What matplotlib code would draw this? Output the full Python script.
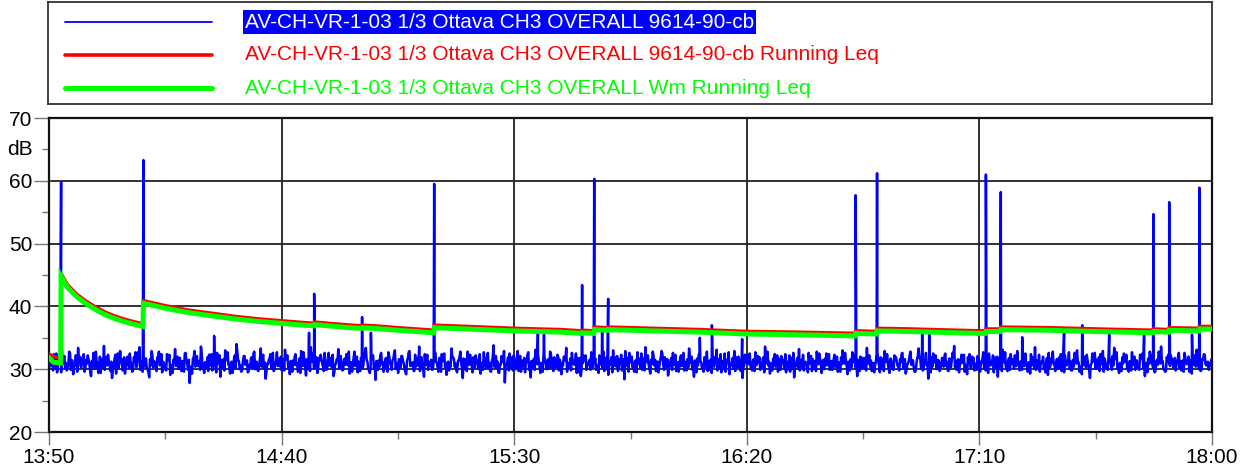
import numpy as np
import matplotlib
matplotlib.use("Agg")
import matplotlib.pyplot as plt
from matplotlib.ticker import FixedLocator, FixedFormatter

plt.rcParams['font.family'] = ['Liberation Sans', 'DejaVu Sans']

# ---------------- data ----------------
x_tick_labels = ["13:50", "14:40", "15:30", "16:20", "17:10", "18:00"]
x_tick_minutes = [0, 50, 100, 150, 200, 250]
y_ticks = [20, 30, 40, 50, 60, 70]

series_names = [
    "AV-CH-VR-1-03 1/3 Ottava CH3 OVERALL 9614-90-cb",
    "AV-CH-VR-1-03 1/3 Ottava CH3 OVERALL 9614-90-cb Running Leq",
    "AV-CH-VR-1-03 1/3 Ottava CH3 OVERALL Wm Running Leq",
]

# background level (dB): even samples over 13:50-18:00
noise_even_db = [
    31.2, 30.6, 31.9, 32.4, 30.1, 29.5, 31.3, 30.8, 33.1, 31.7, 30.2, 29.8, 30.9, 32.6, 31.4, 29.2, 30.5, 31.8, 33.4, 32.0, 30.3, 30.9, 29.6, 31.5,
    32.2, 30.7, 28.9, 30.4, 31.6, 32.8, 31.1, 30.0, 29.4, 31.0, 33.7, 31.9, 30.6, 31.3, 29.7, 28.6, 30.8, 32.3, 31.5, 30.2, 32.9, 31.6, 30.1, 29.3,
    30.7, 31.8, 32.5, 30.9, 29.9, 31.4, 30.3, 32.7, 33.5, 31.2, 29.6, 30.4, 31.7, 30.0, 28.7, 30.6, 32.1, 31.3, 30.5, 31.9, 32.8, 30.8, 29.5, 31.1,
    30.2, 32.4, 31.6, 29.1, 30.3, 31.5, 33.2, 30.9, 30.1, 31.8, 29.7, 30.6, 32.5, 31.2, 29.9, 27.8, 30.4, 31.7, 32.9, 31.0, 30.5, 31.3, 33.6, 30.2,
    29.4, 30.8, 31.9, 32.3, 30.6, 29.8, 31.1, 30.4, 32.6, 31.5, 28.8, 30.3, 31.6, 33.0, 31.9, 30.7, 29.3, 31.2, 30.5, 32.2, 34.0, 31.4, 30.0, 29.6,
    31.3, 32.1, 30.9, 29.5, 30.7, 31.8, 30.2, 32.8, 31.1, 29.9, 30.6, 33.3, 31.7, 30.1, 28.5, 30.9, 31.5, 32.4, 30.8, 29.7, 31.0, 32.7, 31.2, 30.4,
    29.8, 31.6, 33.1, 31.9, 30.3, 29.2, 30.8, 31.4, 32.0, 30.6, 29.6, 31.7, 32.9, 30.5, 31.2, 29.0, 30.4, 31.9, 33.5, 31.3, 30.1, 30.7, 29.4, 31.8,
    32.3, 30.9, 29.7, 31.2, 30.0, 32.6, 31.5, 30.3, 28.9, 30.7, 31.6, 33.2, 31.0, 30.4, 29.9, 31.7, 32.4, 30.6, 29.3, 31.1, 30.8, 32.8, 31.4, 29.5,
    30.9, 31.8, 30.2, 32.5, 33.4, 31.2, 29.8, 30.5, 31.9, 30.1, 28.3, 30.6, 31.4, 32.2, 30.8, 29.6, 31.5, 30.3, 32.7, 31.0, 29.9, 31.6, 33.0, 30.7,
    29.4, 30.9, 32.1, 31.3, 30.0, 29.2, 31.7, 32.9, 30.6, 31.1, 29.7, 30.4, 31.8, 33.6, 31.5, 30.2, 28.8, 30.7, 32.3, 31.2, 30.5, 29.9, 31.4, 32.6,
    31.0, 29.6, 30.8, 32.4, 31.7, 30.3, 29.1, 31.2, 30.6, 33.3, 31.9, 30.4, 29.8, 31.3, 32.0, 30.9, 28.6, 30.2, 31.6, 32.8, 30.7, 31.5, 29.5, 30.1,
    32.2, 31.4, 30.0, 29.3, 31.0, 32.7, 30.5, 31.8, 30.1, 29.7, 31.3, 33.8, 31.6, 30.2, 29.5, 30.8, 32.1, 31.1, 27.9, 30.6, 31.9, 32.5, 30.3, 29.8,
    31.5, 30.7, 32.9, 31.2, 29.6, 30.4, 31.8, 30.9, 32.3, 29.9, 28.7, 30.5, 31.7, 33.1, 30.8, 31.4, 29.4, 30.2, 32.6, 31.3, 30.0, 31.6, 32.8, 30.4,
    29.7, 31.1, 30.3, 32.0, 31.5, 29.2, 30.6, 31.9, 33.4, 31.0, 30.2, 29.8, 31.3, 30.7, 32.5, 31.8, 29.5, 28.9, 30.9, 31.6, 32.2, 30.5, 31.2, 29.9,
    30.8, 32.4, 31.7, 30.1, 29.4, 31.2, 30.6, 32.8, 31.5, 30.0, 29.1, 30.7, 31.9, 33.0, 31.3, 30.4, 29.7, 31.6, 32.3, 30.9, 28.4, 30.5, 31.8, 32.6,
    31.1, 30.3, 29.6, 31.4, 32.7, 31.0, 30.2, 29.9, 31.7, 33.5, 31.2, 30.6, 29.3, 30.8, 32.1, 31.5, 30.0, 29.5, 31.3, 32.9, 30.7, 31.9, 30.4, 29.0,
    30.6, 31.8, 32.6, 30.9, 29.7, 31.1, 30.3, 32.2, 31.4, 29.8, 30.5, 31.6, 33.3, 31.0, 29.9, 28.8, 30.4, 31.7, 32.4, 31.2, 30.1, 29.6, 31.5, 32.8,
    31.3, 30.0, 29.4, 30.8, 31.9, 33.1, 31.6, 30.2, 29.5, 31.0, 32.5, 30.7, 31.4, 29.2, 30.6, 31.8, 32.9, 30.9, 30.3, 31.5, 29.7, 28.6, 30.5, 31.7,
    32.3, 31.1, 30.4, 29.8, 31.6, 32.7, 30.8, 31.3, 29.9, 30.2, 31.9, 33.6, 31.4, 30.6, 29.3, 30.9, 31.7, 32.4, 31.0, 29.6, 30.7, 32.1, 31.5, 30.0,
    29.5, 30.9, 32.2, 31.4, 30.1, 28.7, 30.5, 31.8, 33.2, 31.1, 30.3, 29.8, 31.2, 30.6, 32.6, 31.9, 29.7, 30.4, 31.3, 32.8, 30.8, 31.6, 29.4, 30.2,
    31.7, 32.5, 30.6, 29.9, 31.3, 30.0, 32.3, 31.5, 29.6, 30.8, 31.9, 33.0, 30.9, 31.2, 29.2, 30.5, 31.6, 32.7, 31.1, 30.3, 28.9, 30.7, 32.0, 31.4,
    30.2, 31.8, 33.4, 31.6, 30.4, 29.7, 31.0, 30.6, 32.4, 31.3, 29.5, 30.1, 31.7, 32.9, 31.2, 30.8, 29.4, 31.5, 30.0, 32.2, 31.9, 30.5, 29.8, 31.1,
    32.6, 30.9, 29.3, 30.7, 31.4, 32.8, 31.0, 30.2, 29.6, 31.6, 33.3, 31.8, 30.4, 29.9, 31.2, 30.6, 28.5, 30.3, 31.9, 32.5, 31.1, 30.0, 31.5, 29.7,
    30.8, 31.3, 32.1, 30.5, 29.8, 31.7, 30.3, 32.6, 33.7, 31.4, 30.1, 29.5, 30.9, 31.6, 32.3, 30.7, 29.2, 31.0, 30.4, 32.0, 31.8, 30.6, 29.9, 31.2,
    29.6, 31.0, 32.7, 31.5, 30.2, 29.4, 31.3, 30.8, 32.2, 31.9, 30.5, 28.8, 30.6, 31.4, 33.1, 31.1, 30.3, 29.7, 31.8, 32.4, 30.9, 30.1, 31.6, 32.9,
    31.2, 30.4, 29.9, 31.6, 32.5, 30.7, 31.1, 29.3, 30.6, 31.9, 33.5, 31.4, 30.0, 29.6, 31.2, 32.0, 30.8, 31.5, 29.1, 30.3, 31.7, 32.8, 31.0, 30.5,
    30.1, 31.9, 32.4, 30.6, 29.5, 31.3, 30.9, 32.7, 31.2, 29.8, 30.4, 31.6, 33.0, 31.1, 30.3, 29.2, 30.7, 31.8, 32.3, 30.5, 28.6, 30.9, 31.4, 32.6,
    31.5, 30.2, 29.7, 31.0, 32.9, 31.7, 30.4, 29.9, 31.3, 30.8, 32.1, 33.4, 31.6, 30.1, 29.4, 30.6, 31.9, 32.5, 31.2, 30.0, 29.6, 31.1, 32.7, 30.7,
    29.9, 31.4, 30.6, 32.3, 31.8, 30.2, 28.9, 30.5, 31.7, 32.8, 31.0, 30.3, 29.5, 31.2, 30.7, 32.4, 33.6, 31.3, 30.0, 29.7, 31.5, 30.9, 32.2, 31.6,
    30.4, 29.8, 31.1, 32.6, 31.3, 30.5, 29.6, 31.9, 30.8, 32.0, 31.4, 29.3, 30.7, 31.8, 33.1, 31.0, 30.2, 29.9, 31.6, 32.3, 30.6, 31.2, 30.9, 31.5,
]

# background level (dB): odd samples, in between the even ones
noise_odd_db = [
    30.4, 31.7, 29.8, 31.2, 32.5, 30.6, 31.9, 29.5, 30.8, 32.1, 31.0, 30.3, 32.8, 29.9, 31.4, 30.7, 32.2, 29.6, 31.1, 30.5, 31.8, 32.4, 30.2, 30.9,
    31.5, 29.7, 31.3, 32.6, 30.1, 31.0, 29.4, 32.0, 31.6, 30.4, 29.9, 31.8, 32.3, 30.6, 31.2, 30.0, 31.7, 29.3, 32.5, 30.8, 31.4, 29.8, 31.9, 30.5,
    32.0, 30.2, 31.1, 29.6, 31.9, 32.7, 30.5, 31.3, 29.9, 30.7, 32.2, 31.4, 30.1, 29.5, 31.6, 32.9, 30.3, 31.0, 29.7, 31.5, 30.6, 32.4, 31.2, 30.0,
    29.8, 31.4, 32.3, 30.7, 29.4, 31.1, 30.5, 32.0, 31.7, 30.2, 31.3, 29.6, 32.6, 30.9, 31.5, 30.0, 29.3, 31.8, 30.4, 32.1, 31.0, 29.9, 32.5, 30.6,
    31.1, 30.3, 29.7, 31.6, 32.4, 30.8, 31.2, 29.5, 30.9, 32.2, 31.5, 30.1, 29.8, 31.4, 32.7, 30.5, 31.0, 29.4, 31.7, 30.2, 32.8, 31.3, 30.6, 29.9,
    32.1, 30.7, 31.4, 29.6, 30.3, 31.9, 32.5, 30.0, 31.2, 29.7, 31.6, 30.4, 32.3, 31.1, 29.5, 30.8, 31.8, 30.2, 32.6, 29.9, 31.3, 30.5, 31.7, 32.0,
    30.5, 29.8, 31.5, 32.2, 30.9, 31.3, 29.6, 30.7, 32.4, 31.0, 30.2, 29.4, 31.8, 32.7, 30.4, 31.6, 30.0, 29.7, 31.2, 32.5, 30.6, 31.9, 30.1, 31.4,
    31.7, 30.4, 32.6, 29.9, 31.1, 30.6, 31.8, 32.3, 29.5, 30.9, 31.4, 30.1, 32.1, 29.8, 31.5, 30.7, 31.0, 32.8, 30.3, 29.6, 31.9, 30.5, 32.0, 31.2,
    29.7, 31.2, 30.6, 32.4, 31.5, 30.0, 29.4, 31.7, 32.2, 30.8, 31.3, 29.9, 30.4, 32.6, 31.1, 30.2, 31.8, 29.6, 32.0, 30.7, 31.4, 32.5, 30.1, 31.0,
    31.6, 30.3, 32.1, 30.9, 29.5, 31.4, 32.7, 30.5, 31.0, 29.8, 32.3, 31.2, 30.6, 29.7, 31.9, 30.1, 32.4, 31.3, 29.9, 30.8, 31.5, 30.0, 32.2, 31.1,
    30.2, 31.8, 29.6, 31.3, 32.5, 30.7, 31.1, 29.8, 30.4, 32.0, 31.6, 30.9, 29.5, 31.4, 32.8, 30.3, 31.7, 30.0, 29.7, 31.2, 32.3, 30.6, 31.9, 30.5,
    31.3, 30.1, 32.4, 30.8, 29.9, 31.5, 30.2, 32.6, 31.0, 29.6, 31.8, 30.4, 32.1, 31.2, 29.4, 30.7, 31.6, 32.9, 30.5, 31.1, 29.8, 30.3, 31.9, 32.2,
    30.0, 31.6, 29.7, 32.1, 31.4, 30.6, 29.5, 31.2, 32.7, 30.9, 31.3, 30.2, 29.9, 31.8, 32.4, 30.4, 31.0, 29.6, 32.0, 30.8, 31.5, 30.1, 32.5, 31.7,
    31.9, 30.5, 32.3, 29.8, 31.1, 30.7, 32.0, 31.4, 29.6, 30.3, 31.7, 32.6, 30.9, 31.2, 29.4, 30.6, 31.8, 30.0, 32.2, 31.3, 29.9, 30.8, 31.5, 32.7,
    30.3, 31.2, 29.9, 30.6, 32.2, 31.5, 30.1, 29.7, 31.8, 32.4, 30.8, 31.3, 29.5, 30.5, 31.9, 32.1, 30.2, 31.0, 29.8, 31.6, 32.9, 30.7, 29.6, 31.1,
    32.0, 30.9, 31.3, 29.5, 30.8, 31.7, 32.5, 30.4, 29.8, 31.1, 32.2, 30.0, 31.5, 32.8, 30.6, 29.7, 31.2, 30.3, 31.9, 32.4, 29.9, 30.5, 31.6, 30.2,
    31.4, 29.9, 30.7, 32.3, 31.0, 29.6, 31.8, 30.5, 32.6, 31.2, 29.8, 30.3, 31.7, 32.0, 30.9, 31.4, 29.5, 30.6, 32.5, 31.1, 30.0, 31.9, 30.4, 29.7,
    29.9, 31.6, 32.2, 30.4, 31.1, 29.8, 30.7, 32.4, 31.3, 30.0, 29.6, 31.5, 32.7, 30.8, 31.2, 30.1, 29.7, 31.9, 32.0, 30.5, 31.4, 30.2, 32.3, 31.0,
    30.8, 32.5, 30.2, 31.4, 29.7, 30.6, 32.1, 31.9, 30.3, 31.6, 29.5, 30.9, 32.8, 31.2, 30.0, 29.8, 31.5, 30.4, 32.2, 31.7, 29.9, 31.1, 30.6, 32.4,
    31.2, 30.0, 29.6, 31.8, 32.6, 30.5, 31.3, 30.1, 29.8, 31.5, 32.3, 30.7, 31.0, 29.5, 30.9, 32.1, 31.6, 30.3, 29.7, 31.2, 32.5, 30.8, 31.4, 30.0,
    30.6, 31.3, 32.4, 30.2, 29.9, 31.7, 30.4, 32.0, 31.1, 29.6, 30.8, 31.9, 32.6, 30.5, 31.2, 29.8, 30.3, 31.6, 32.2, 30.9, 31.5, 29.7, 30.1, 31.8,
    31.5, 29.8, 30.9, 32.2, 31.4, 30.1, 29.5, 31.1, 32.7, 30.6, 31.9, 30.3, 29.7, 31.3, 32.4, 30.0, 31.7, 30.8, 29.9, 32.0, 31.2, 30.4, 31.6, 32.5,
    30.1, 31.6, 29.9, 31.0, 32.3, 30.7, 31.4, 29.6, 30.5, 32.1, 31.8, 30.2, 29.8, 31.5, 32.6, 30.9, 31.1, 29.5, 30.4, 31.9, 32.2, 30.6, 31.3, 30.0,
    31.8, 30.4, 32.5, 31.2, 29.7, 30.8, 31.5, 32.0, 30.3, 29.9, 31.6, 30.7, 32.3, 31.0, 29.6, 30.5, 31.9, 32.4, 30.1, 31.3, 29.8, 30.9, 32.1, 31.4,
    30.9, 31.7, 30.2, 29.8, 31.4, 32.5, 30.6, 31.1, 29.5, 30.3, 32.0, 31.8, 30.4, 29.7, 31.2, 32.7, 30.0, 31.5, 29.9, 30.8, 31.6, 32.2, 30.5, 31.0,
    29.8, 31.3, 32.1, 30.5, 31.0, 29.6, 30.9, 32.4, 31.7, 30.2, 29.9, 31.4, 32.3, 30.7, 31.1, 30.0, 29.5, 31.8, 32.6, 30.4, 31.2, 30.8, 29.7, 31.6,
    31.6, 30.2, 29.7, 31.9, 32.2, 30.6, 31.3, 30.0, 29.8, 31.5, 32.6, 30.9, 31.1, 29.6, 30.4, 31.7, 32.0, 30.3, 31.4, 29.9, 30.7, 32.5, 31.2, 30.1,
    30.5, 31.9, 32.4, 30.8, 29.6, 31.2, 30.3, 32.1, 31.5, 29.9, 30.6, 31.8, 32.7, 30.2, 31.0, 29.7, 30.9, 31.6, 32.3, 30.4, 31.3, 29.8, 30.7, 32.0,
    31.1, 30.4, 29.9, 31.7, 32.5, 30.6, 31.0, 29.5, 30.8, 32.2, 31.4, 30.1, 29.7, 31.5, 32.8, 30.9, 31.2, 30.0, 29.6, 31.9, 32.3, 30.5, 31.6, 30.3,
    31.8, 30.7, 32.0, 30.2, 29.8, 31.4, 32.6, 30.9, 31.1, 29.6, 30.5, 31.7, 32.2, 30.4, 31.3, 30.0, 29.7, 31.6, 32.4, 30.8, 31.0, 29.9, 30.6, 31.4,
]

# short events: minutes after 13:50 and peak level (dB)
event_minutes = [2.6, 20.3, 35.5, 55.9, 57.0, 67.3, 69.2, 82.8, 105.1, 106.4, 114.6, 117.2,
                 118.9, 120.2, 139.9, 142.5, 149.0, 173.4, 178.0, 187.7, 189.2, 201.4,
                 204.6, 209.2, 218.2, 222.1, 227.9, 235.4, 237.4, 240.8, 245.7, 247.3]
event_db = [59.8, 63.3, 35.3, 35.8, 42.0, 38.3, 35.8, 59.5, 36.0, 35.5, 43.4, 60.3,
            36.0, 41.2, 35.0, 37.0, 34.8, 57.7, 61.2, 35.8, 36.3, 61.0,
            58.2, 35.1, 35.8, 37.0, 35.5, 35.5, 54.7, 56.6, 35.5, 58.9]

# running Leq curves
leq_minutes = [0, 1, 2.5, 2.6, 4, 6, 8, 10, 12, 14, 16, 18, 20.2, 20.3, 25, 30, 35, 40, 45, 50,
               55, 57, 57.1, 60, 65, 67.3, 67.4, 70, 75, 82.7, 82.8, 90, 100, 110, 114.5, 114.6,
               117.1, 117.2, 120.1, 120.2, 130, 140, 150, 160, 173.3, 173.4, 177.9, 178.0, 185,
               190, 200, 201.3, 201.4, 204.5, 204.6, 215, 225, 237.3, 237.4, 240.7, 240.8,
               247.2, 247.3, 250]
leq_red = [32.4, 32.0, 31.8, 45.2, 43.4, 41.9, 40.8, 39.9, 39.1, 38.5, 38.0, 37.6, 37.2, 40.9,
           40.1, 39.4, 38.9, 38.4, 38.0, 37.7, 37.4, 37.3, 37.5, 37.3, 37.0, 36.9, 37.0, 36.9,
           36.6, 36.2, 37.0, 36.8, 36.5, 36.3, 36.1, 36.2, 36.1, 36.7, 36.6, 36.7, 36.5, 36.3,
           36.0, 35.9, 35.7, 36.1, 36.0, 36.5, 36.4, 36.3, 36.1, 36.1, 36.4, 36.4, 36.7, 36.6,
           36.4, 36.2, 36.4, 36.3, 36.6, 36.5, 36.8, 36.8]
leq_green = [31.8, 31.1, 31.0, 44.8, 43.0, 41.5, 40.4, 39.5, 38.7, 38.1, 37.6, 37.2, 36.8, 40.5,
             39.7, 39.0, 38.5, 38.0, 37.6, 37.3, 37.0, 36.9, 37.1, 36.9, 36.6, 36.5, 36.6, 36.5,
             36.2, 35.8, 36.6, 36.4, 36.1, 35.9, 35.7, 35.8, 35.7, 36.3, 36.2, 36.3, 36.1, 35.9,
             35.6, 35.5, 35.3, 35.7, 35.6, 36.1, 36.0, 35.9, 35.7, 35.7, 36.0, 36.0, 36.3, 36.2,
             36.0, 35.8, 36.0, 35.9, 36.2, 36.1, 36.4, 36.4]

# ---------------- build ----------------
W, H = 1243, 472
fig = plt.figure(figsize=(W / 100, H / 100), dpi=100)
ax = fig.add_axes([49 / W, 1 - 432 / H, (1212 - 49) / W, (432 - 118) / H])

n = min(len(noise_even_db), len(noise_odd_db))
noise = np.empty(2 * n)
noise[0::2] = noise_even_db[:n]
noise[1::2] = noise_odd_db[:n]
t_noise = np.linspace(0, 250, 2 * n)
t_all = np.concatenate([t_noise, np.array(event_minutes)])
v_all = np.concatenate([noise, np.array(event_db)])
order = np.argsort(t_all, kind="stable")

ax.plot(t_all[order], v_all[order], color="#0000FF", lw=1.8, zorder=3)
ax.plot(leq_minutes, leq_red, color="#FF0000", lw=2.6, zorder=4, solid_joinstyle="miter")
ax.plot(leq_minutes, leq_green, color="#00FF00", lw=3.6, zorder=5, solid_joinstyle="miter")

ax.set_xlim(0, 250)
ax.set_ylim(20, 70)
ax.xaxis.set_major_locator(FixedLocator(x_tick_minutes))
ax.xaxis.set_major_formatter(FixedFormatter(x_tick_labels))
ax.xaxis.set_minor_locator(FixedLocator([25, 75, 125, 175, 225]))
ax.yaxis.set_major_locator(FixedLocator(y_ticks))
ax.yaxis.set_minor_locator(FixedLocator([25, 35, 45, 55, 65]))

ax.tick_params(which="major", length=10.5, width=1.0, color="#777777", labelsize=15, pad=1.5)
ax.tick_params(which="minor", length=5, width=1.0, color="#777777")
ax.tick_params(axis="x", which="major", length=9.5, pad=2)
for s in ax.spines.values():
    s.set_linewidth(1.6)
    s.set_color("#111111")
ax.grid(True, which="major", color="#222222", lw=1.3, zorder=1)
ax.set_axisbelow(True)

ax.annotate("dB", xy=(0, 65), xycoords=("axes fraction", "data"), xytext=(-12, 0),
            textcoords="offset points", ha="right", va="center", fontsize=15)

# legend box
lax = fig.add_axes([48 / W, 1 - 104 / H, (1212 - 48) / W, (104 - 2) / H])
lax.set_xlim(0, 1164)
lax.set_ylim(102, 0)
lax.set_xticks([])
lax.set_yticks([])
for s in lax.spines.values():
    s.set_linewidth(1.3)
    s.set_color("#333333")
leg_colors = ["#0000FF", "#FF0000", "#00FF00"]
leg_widths = [1.3, 2.6, 3.6]
leg_rows = [20, 53, 86]
for name, c, w, yy in zip(series_names, leg_colors, leg_widths, leg_rows):
    lax.plot([17, 164], [yy, yy], color=c, lw=w, solid_capstyle="round")
    if c == "#0000FF":
        lax.text(197, yy, name, color="white", fontsize=15, va="center", ha="left",
                 bbox=dict(facecolor="#0000FF", edgecolor="none", pad=1.5))
    else:
        lax.text(197, yy, name, color=c, fontsize=15, va="center", ha="left")

fig.savefig("out.png", dpi=100)
